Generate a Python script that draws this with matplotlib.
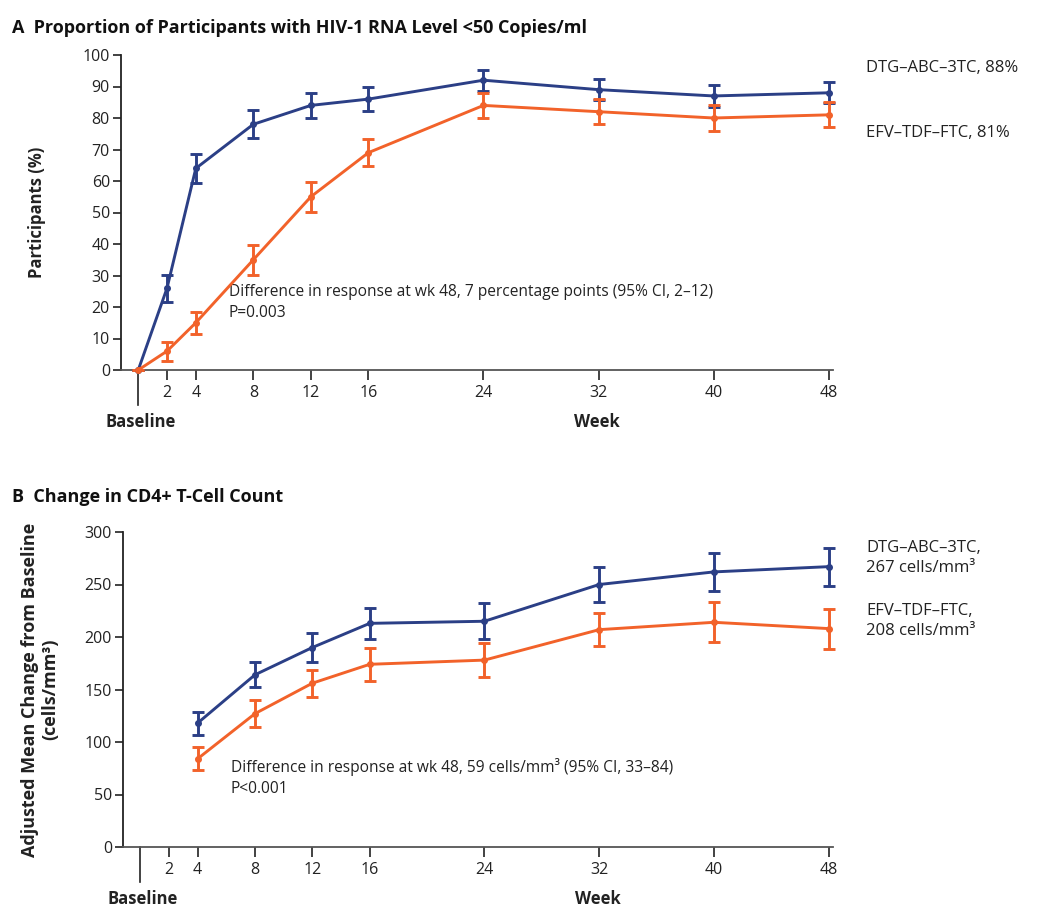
import matplotlib
matplotlib.use("Agg")
import matplotlib.pyplot as plt
import matplotlib.transforms as mtransforms

# weeks on study
weeks_a = [0, 2, 4, 8, 12, 16, 24, 32, 40, 48]
weeks_b = [4, 8, 12, 16, 24, 32, 40, 48]
tick_weeks = [2, 4, 8, 12, 16, 24, 32, 40, 48]

# panel A: % with HIV-1 RNA < 50 copies/ml, with 95% CI half-widths
dtg_pct = [0, 26, 64, 78, 84, 86, 92, 89, 87, 88]
dtg_pct_err = [0, 4.3, 4.5, 4.5, 4.0, 3.8, 3.3, 3.4, 3.5, 3.3]
efv_pct = [0, 6, 15, 35, 55, 69, 84, 82, 80, 81]
efv_pct_err = [0, 3.0, 3.5, 4.8, 4.7, 4.3, 4.0, 4.0, 4.0, 4.0]

# panel B: adjusted mean change in CD4+ count (cells/mm3)
dtg_cd4 = [118, 164, 190, 213, 215, 250, 262, 267]
dtg_cd4_err = [11, 12, 14, 15, 17, 17, 18, 18]
efv_cd4 = [84, 127, 156, 174, 178, 207, 214, 208]
efv_cd4_err = [11, 13, 13, 16, 16, 16, 19, 19]

BLUE = "#2b3f86"
ORANGE = "#f2622a"
TXT = "#222222"

plt.rcParams["font.family"] = ["Open Sans", "DejaVu Sans"]
plt.rcParams["axes.linewidth"] = 1.3
plt.rcParams["xtick.major.width"] = 1.2
plt.rcParams["ytick.major.width"] = 1.2

fig = plt.figure(figsize=(10.37, 9.10), dpi=100)


def setup_axes(ax, ymax, ystep):
    ax.set_xlim(-1.2, 48.3)
    ax.set_ylim(0, ymax)
    for s in ("top", "right"):
        ax.spines[s].set_visible(False)
    ax.spines["left"].set_color(TXT)
    ax.spines["bottom"].set_color("#555555")
    ax.set_yticks(range(0, ymax + 1, ystep))
    ax.set_xticks(tick_weeks)
    ax.set_xticklabels([str(w) for w in tick_weeks])
    ax.tick_params(axis="y", direction="out", length=6, labelsize=11.5,
                   colors=TXT, pad=2)
    ax.tick_params(axis="x", direction="out", length=7, labelsize=11.5,
                   colors=TXT, pad=4)
    # long baseline tick below the axis
    trans = mtransforms.blended_transform_factory(ax.transData, ax.transAxes)
    ax.plot([0, 0], [0, -0.11], color=TXT, lw=1.2, transform=trans,
            clip_on=False)
    ax.text(0.2, -0.135, "Baseline", transform=trans, ha="center", va="top",
            fontsize=12, fontweight="bold", color=TXT)
    ax.text(31.9, -0.135, "Week", transform=trans, ha="center", va="top",
            fontsize=12, fontweight="bold", color=TXT)


def draw_series(ax, x, y, err, color):
    ax.errorbar(x, y, yerr=err, color=color, lw=2.1, elinewidth=2.1,
                capsize=4, capthick=2.1, marker="o", markersize=4,
                clip_on=False, zorder=3)


# ---- panel A ----
ax1 = fig.add_axes([121 / 1037, 1 - 370 / 910, 712 / 1037, 315 / 910])
setup_axes(ax1, 100, 10)
draw_series(ax1, weeks_a, dtg_pct, dtg_pct_err, BLUE)
draw_series(ax1, weeks_a, efv_pct, efv_pct_err, ORANGE)
ax1.set_ylabel("Participants (%)", fontsize=12, fontweight="bold",
               color=TXT, labelpad=26)
ax1.text(6.3, 21.5, "Difference in response at wk 48, 7 percentage points "
         "(95% CI, 2\u201312)\nP=0.003", fontsize=11.2, color=TXT,
         va="center", linespacing=1.4)
fig.text(866 / 1037, 1 - 68 / 910, "DTG\u2013ABC\u20133TC, 88%", fontsize=12,
         color=TXT, va="center")
fig.text(866 / 1037, 1 - 133 / 910, "EFV\u2013TDF\u2013FTC, 81%", fontsize=12,
         color=TXT, va="center")
fig.text(12 / 1037, 1 - 28 / 910,
         "A  Proportion of Participants with HIV-1 RNA Level <50 Copies/ml",
         fontsize=13, fontweight="bold", color="#111111", va="center")

# ---- panel B ----
ax2 = fig.add_axes([123 / 1037, 1 - 847 / 910, 710 / 1037, 315 / 910])
setup_axes(ax2, 300, 50)
draw_series(ax2, weeks_b, dtg_cd4, dtg_cd4_err, BLUE)
draw_series(ax2, weeks_b, efv_cd4, efv_cd4_err, ORANGE)
ax2.set_ylabel("Adjusted Mean Change from Baseline\n(cells/mm\u00b3)",
               fontsize=13, fontweight="bold", color=TXT,
               labelpad=18, linespacing=1.2)
ax2.text(6.3, 66, "Difference in response at wk 48, 59 cells/mm\u00b3 "
         "(95% CI, 33\u201384)\nP<0.001", fontsize=11.2, color=TXT,
         va="center", linespacing=1.4)
fig.text(866 / 1037, 1 - 558 / 910, "DTG\u2013ABC\u20133TC,\n267 cells/mm\u00b3",
         fontsize=12, color=TXT, va="center", linespacing=1.4)
fig.text(866 / 1037, 1 - 621 / 910, "EFV\u2013TDF\u2013FTC,\n208 cells/mm\u00b3",
         fontsize=12, color=TXT, va="center", linespacing=1.4)
fig.text(12 / 1037, 1 - 497 / 910, "B  Change in CD4+ T-Cell Count",
         fontsize=13, fontweight="bold", color="#111111", va="center")

fig.savefig("out.png", dpi=100, facecolor="white")
